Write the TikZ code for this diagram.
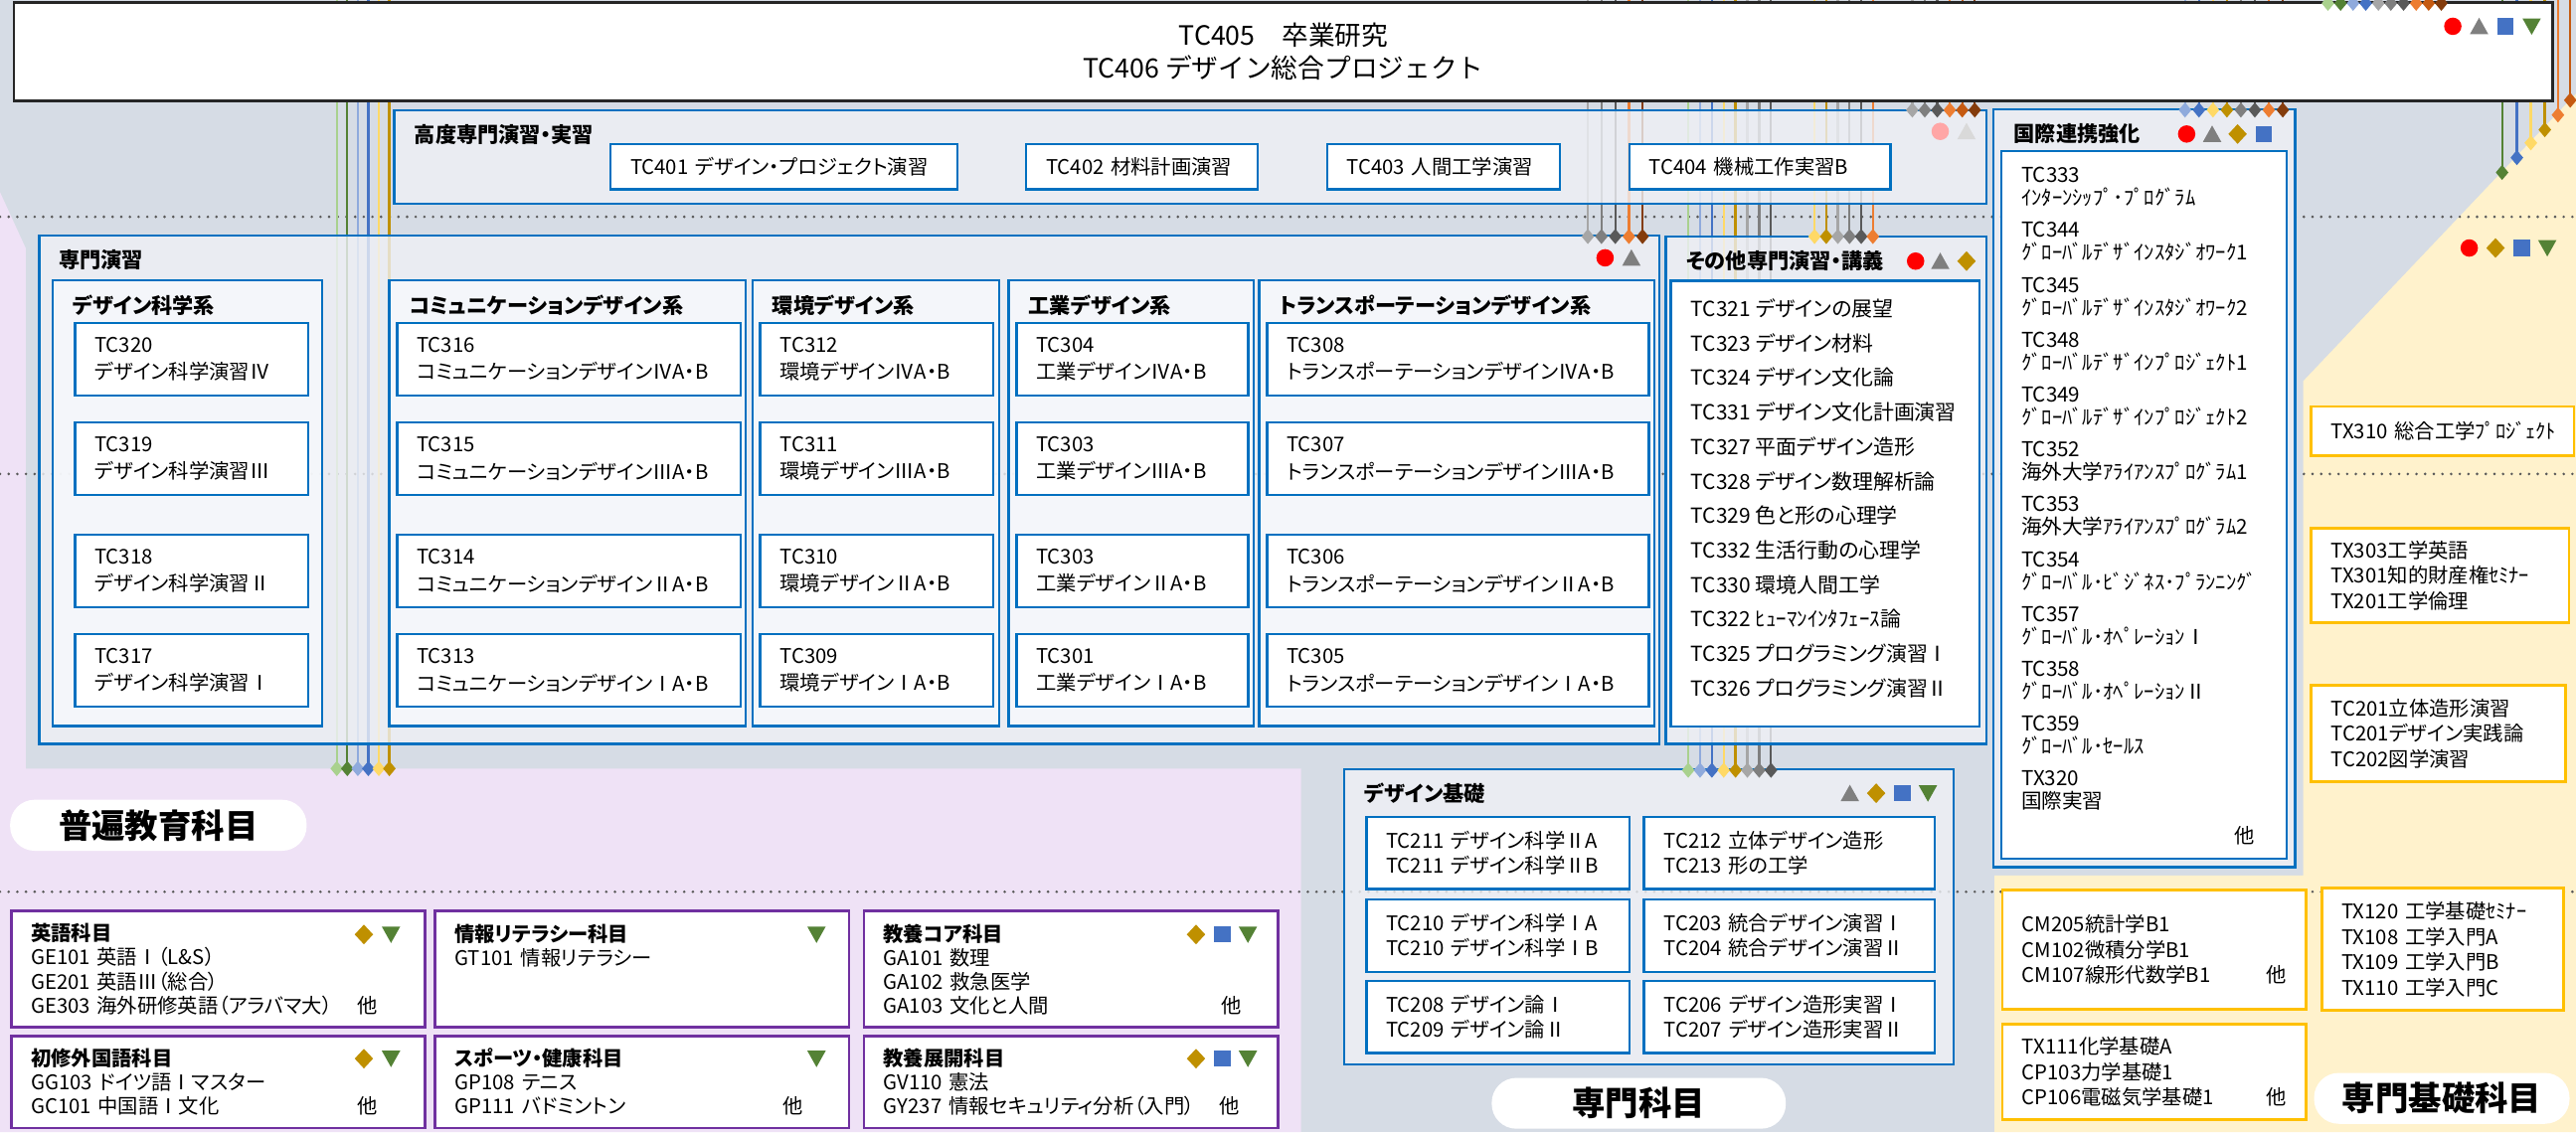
\documentclass[tikz,border=0pt]{standalone}
\usepackage{fontspec}
\setmainfont{Noto Sans CJK JP}[RawFeature=+palt]
\newfontfamily\jpwide{Noto Sans CJK JP}
\usetikzlibrary{shapes.geometric,fit}

\definecolor{bgray}{RGB}{214,220,229}
\definecolor{lav}{RGB}{239,226,246}
\definecolor{cream}{RGB}{255,242,204}
\definecolor{boxblue}{RGB}{0,112,192}
\definecolor{secfill}{RGB}{239,241,246}
\definecolor{colfill}{RGB}{247,249,252}
\definecolor{purp}{RGB}{112,48,160}
\definecolor{amber}{RGB}{255,192,0}
\definecolor{lgreen}{RGB}{169,209,142}
\definecolor{dgreen}{RGB}{84,130,53}
\definecolor{lblue}{RGB}{143,170,220}
\definecolor{mblue}{RGB}{68,114,196}
\definecolor{lyellow}{RGB}{255,217,102}
\definecolor{gold}{RGB}{191,144,0}
\definecolor{lgray}{RGB}{166,166,166}
\definecolor{mgray}{RGB}{127,127,127}
\definecolor{dgray}{RGB}{89,89,89}
\definecolor{orng}{RGB}{237,125,49}
\definecolor{dorng}{RGB}{197,90,17}
\definecolor{brwn}{RGB}{132,60,12}
\definecolor{pinkred}{RGB}{255,166,166}
\definecolor{pgray}{RGB}{217,217,217}

\begin{document}
\begin{tikzpicture}[x=0.2mm,y=-0.2mm,
  secbox/.style={draw=boxblue,line width=.8pt,fill=secfill,fill opacity=.8,inner sep=0pt},
  colbox/.style={secbox,fill=colfill},
  whitebox/.style={draw=boxblue,line width=.8pt,fill=white,inner sep=0pt},
  coursebox/.style={draw=boxblue,line width=.8pt,fill=white,anchor=north west,align=left,
    inner xsep=2.4mm,inner ysep=0pt,minimum height=8.8mm,text width=#1,font=\fontsize{7}{9.4}\selectfont},
  purpbox/.style={draw=purp,line width=.9pt,fill=white,anchor=north west,align=left,
    inner xsep=2.4mm,inner ysep=0pt,text width=45.6mm,minimum height=#1,font=\fontsize{7}{8.3}\selectfont},
  ambbox/.style={draw=amber,line width=.9pt,fill=white,anchor=north west,align=left,
    inner xsep=2.4mm,inner ysep=0pt,font=\fontsize{7}{8.8}\selectfont},
  seclabel/.style={anchor=west,inner sep=0pt,font=\bfseries\fontsize{7.3}{9}\selectfont},
  pill/.style={fill=white,rounded corners=3mm,minimum height=6.1mm,font=\bfseries\fontsize{11.5}{12}\selectfont},
  wire/.style={line width=.8pt},
  dia/.style={diamond,inner sep=0pt,minimum width=1.6mm,minimum height=1.9mm},
  yearline/.style={dgray,line width=1pt,line cap=round,dash pattern=on 0pt off 3pt},
  icirc/.pic={\path[pic actions] (0,0) circle (5.3);},
  itri/.pic={\path[pic actions] (-5.6,4.8) -- (5.6,4.8) -- (0,-5.2) -- cycle;},
  isq/.pic={\path[pic actions] (-4.9,-4.9) rectangle (4.9,4.9);},
  idia/.pic={\path[pic actions] (0,-6) -- (5.6,0) -- (0,6) -- (-5.6,0) -- cycle;},
  iinv/.pic={\path[pic actions] (-5.6,-4.8) -- (5.6,-4.8) -- (0,5.2) -- cycle;}]

\useasboundingbox (0,0) rectangle (1568,689.3);
\fill[bgray] (0,0) rectangle (1568,689.3);
\fill[lav] (0,117) -- (15.6,151) -- (15.6,468) -- (792,468) -- (792,689.3) -- (0,689.3) -- cycle;
\fill[cream] (1568,57) -- (1402,232) -- (1402,533) -- (1214,533) -- (1214,689.3) -- (1568,689.3) -- cycle;

\foreach \y in {132,288.6,543}
  \draw[yearline] (0,\y) -- (1568,\y);

% wires: x / end y / colour
\def\wirelist{205/468/lgreen,211.4/468/dgreen,217.8/468/lblue,224.2/468/mblue,230.6/468/lyellow,237/468/gold,
  966.5/144/lgray,974.8/144/mgray,983.2/144/dgray,991.5/144/orng,999.8/144/brwn,
  1164/67/lgray,1171.6/67/mgray,1179.2/67/dgray,1186.8/67/orng,1194.4/67/dorng,1202/67/brwn,
  1104.5/144/lyellow,1111.6/144/gold,1118.7/144/lgray,1125.8/144/mgray,1132.9/144/dgray,1140/144/orng,
  1027.6/469/lgreen,1034.8/469/lblue,1042/469/mblue,1049.2/469/lyellow,1056.4/469/gold,1063.6/469/lgray,1070.8/469/mgray,1078/469/dgray,
  1330/67/lblue,1338.5/67/mblue,1347/67/lyellow,1355.5/67/gold,1364/67/mgray,1372.5/67/dgray,1381/67/orng,1389.5/67/brwn,
  1417/2/lgreen,1424.7/2/dgreen,1432.3/2/lblue,1440/2/mblue,1447.7/2/lgray,1455.3/2/mgray,1463/2/dgray,1470.7/2/orng,1478.3/2/dorng,1486/2/brwn,
  1523/105/dgreen,1532/96/mblue,1540.5/87/lyellow,1549/79/gold,1557/70/orng,1564.5/61/dorng}
\foreach \x/\y/\c [count=\n] in \wirelist {
  \coordinate (wTop\n) at (\x,0);
  \coordinate (wEnd\n) at (\x,\y);
  \draw[wire,\c] (wTop\n) -- (wEnd\n);
}

% 高度専門演習・実習
\node[secbox,fit={(240,67) (1209,124)}] (koudo) {};
\node[seclabel] (koudoLb) at (252,81.7) {高度専門演習・実習};
\node[coursebox=37.4mm,minimum height=5.5mm] (tc401) at (371,87) {TC401 デザイン・プロジェクト演習};
\node[coursebox=23.4mm,minimum height=5.5mm] (tc402) at (624,87) {TC402 材料計画演習};
\node[coursebox=23.6mm,minimum height=5.5mm] (tc403) at (807,87) {TC403 人間工学演習};
\node[coursebox=27mm,minimum height=5.5mm] (tc404) at (991,87) {TC404 機械工作実習B};

% 専門演習
\node[secbox,fit={(24,143.5) (1010,453)}] (senmon) {};
\node[seclabel] (senmonLb) at (35.5,158.5) {専門演習};
\foreach \a/\b/\t [count=\n] in {32/196/デザイン科学系,237/454/コミュニケーションデザイン系,
    458/608/環境デザイン系,614/763/工業デザイン系,766.5/1007/トランスポーテーションデザイン系} {
  \node[colbox,fit={(\a,170.5) (\b,442)}] (kei\n) {};
  \node[seclabel] (keiLb\n) at (\a+11.8,185.7) {\t};
}
\foreach \cd/\rn/\yy [count=\n] in {TC320/Ⅳ/196,TC319/Ⅲ/256.6,TC318/Ⅱ/325,TC317/Ⅰ/385.5}
  \node[coursebox=23.6mm] (kagaku\n) at (45,\yy) {\cd\\デザイン科学演習\rn};
\foreach \cd/\rn/\yy [count=\n] in {TC316/Ⅳ/196,TC315/Ⅲ/256.6,TC314/Ⅱ/325,TC313/Ⅰ/385.5}
  \node[coursebox=37mm] (comm\n) at (241,\yy) {\cd\\コミュニケーションデザイン\rn A・B};
\foreach \cd/\rn/\yy [count=\n] in {TC312/Ⅳ/196,TC311/Ⅲ/256.6,TC310/Ⅱ/325,TC309/Ⅰ/385.5}
  \node[coursebox=23.6mm] (kankyo\n) at (462,\yy) {\cd\\環境デザイン\rn A・B};
\foreach \cd/\rn/\yy [count=\n] in {TC304/Ⅳ/196,TC303/Ⅲ/256.6,TC303/Ⅱ/325,TC301/Ⅰ/385.5}
  \node[coursebox=23.4mm] (kogyo\n) at (618,\yy) {\cd\\工業デザイン\rn A・B};
\foreach \cd/\rn/\yy [count=\n] in {TC308/Ⅳ/196,TC307/Ⅲ/256.6,TC306/Ⅱ/325,TC305/Ⅰ/385.5}
  \node[coursebox=41.7mm] (trans\n) at (770.5,\yy) {\cd\\トランスポーテーションデザイン\rn A・B};

% その他専門演習・講義
\node[secbox,fit={(1014,144) (1209,453)}] (sonota) {};
\node[seclabel] (sonotaLb) at (1026,158.7) {その他専門演習・講義};
\node[whitebox,fit={(1017,171) (1205,442.5)}] (sonotaIn) {};
\node[anchor=west,align=left,inner sep=0pt,font=\fontsize{7.2}{11.95}\selectfont] (sonotaList) at (1029,303.4)
  {TC321 デザインの展望\\TC323 デザイン材料\\TC324 デザイン文化論\\TC331 デザイン文化計画演習\\
   TC327 平面デザイン造形\\TC328 デザイン数理解析論\\TC329 色と形の心理学\\TC332 生活行動の心理学\\
   TC330 環境人間工学\\TC322 {\jpwide ﾋｭｰﾏﾝｲﾝﾀﾌｪｰｽ}論\\TC325 プログラミング演習Ⅰ\\TC326 プログラミング演習Ⅱ};

% 国際連携強化
\node[secbox,fit={(1213.5,66.6) (1397,528)}] (kokusai) {};
\node[seclabel] (kokusaiLb) at (1225.5,81.6) {国際連携強化};
\node[whitebox,fit={(1218,92) (1392,523)}] (kokusaiIn) {};
\foreach \p/\q [count=\n] in {TC333/ｲﾝﾀｰﾝｼｯﾌﾟ･ﾌﾟﾛｸﾞﾗﾑ,TC344/ｸﾞﾛｰﾊﾞﾙﾃﾞｻﾞｲﾝｽﾀｼﾞｵﾜｰｸ1,TC345/ｸﾞﾛｰﾊﾞﾙﾃﾞｻﾞｲﾝｽﾀｼﾞｵﾜｰｸ2,
    TC348/ｸﾞﾛｰﾊﾞﾙﾃﾞｻﾞｲﾝﾌﾟﾛｼﾞｪｸﾄ1,TC349/ｸﾞﾛｰﾊﾞﾙﾃﾞｻﾞｲﾝﾌﾟﾛｼﾞｪｸﾄ2,TC352/海外大学ｱﾗｲｱﾝｽﾌﾟﾛｸﾞﾗﾑ1,
    TC353/海外大学ｱﾗｲｱﾝｽﾌﾟﾛｸﾞﾗﾑ2,TC354/ｸﾞﾛｰﾊﾞﾙ･ﾋﾞｼﾞﾈｽ･ﾌﾟﾗﾝﾆﾝｸﾞ,TC357/ｸﾞﾛｰﾊﾞﾙ･ｵﾍﾟﾚｰｼｮﾝⅠ,
    TC358/ｸﾞﾛｰﾊﾞﾙ･ｵﾍﾟﾚｰｼｮﾝⅡ,TC359/ｸﾞﾛｰﾊﾞﾙ･ｾｰﾙｽ,TX320/国際実習}
  \node[anchor=west,align=left,inner sep=0pt,font=\jpwide\fontsize{7.1}{7.9}\selectfont] (kk\n) at (1230,{113.85+33.4*(\n-1)}) {\p\\\q};
\node[inner sep=0pt,font=\fontsize{7}{8}\selectfont] (kkEtc) at (1366,509) {他};

% 専門基礎科目 (右)
\node[ambbox,text width=27.2mm,minimum height=6mm] (tx310) at (1406,246.7) {TX310~総合工学{\jpwide ﾌﾟﾛｼﾞｪｸﾄ}};
\node[ambbox,text width=26.6mm,minimum height=11.5mm] (tx303) at (1406,320.8) {TX303工学英語\\TX301知的財産権{\jpwide ｾﾐﾅｰ}\\TX201工学倫理};
\node[ambbox,text width=26.2mm,minimum height=11.7mm] (tc201) at (1406,416.5) {TC201立体造形演習\\TC201デザイン実践論\\TC202図学演習};
\node[ambbox,text width=32.2mm,minimum height=14.56mm] (cm205) at (1218,541) {CM205統計学B1\\CM102微積分学B1\\CM107線形代数学B1\hfill 他};
\node[ambbox,text width=24.6mm,minimum height=14.9mm] (tx120) at (1412.5,540) {TX120~工学基礎{\jpwide ｾﾐﾅｰ}\\TX108~工学入門A\\TX109~工学入門B\\TX110~工学入門C};
\node[ambbox,text width=32.2mm,minimum height=11.6mm] (tx111) at (1218,623) {TX111化学基礎A\\CP103力学基礎1\\CP106電磁気学基礎1\hfill 他};

% デザイン基礎
\node[secbox,fit={(818,468.4) (1189,648)}] (kiso) {};
\node[seclabel] (kisoLb) at (830,483) {デザイン基礎};
\node[coursebox=27.2mm,font=\fontsize{7}{8.5}\selectfont] (kiso1) at (831,496.7) {TC211~デザイン科学ⅡA\\TC211~デザイン科学ⅡB};
\node[coursebox=30.6mm,font=\fontsize{7}{8.5}\selectfont] (kiso2) at (1000,496.7) {TC212~立体デザイン造形\\TC213~形の工学};
\node[coursebox=27.2mm,font=\fontsize{7}{8.5}\selectfont] (kiso3) at (831,547) {TC210~デザイン科学ⅠA\\TC210~デザイン科学ⅠB};
\node[coursebox=30.6mm,font=\fontsize{7}{8.5}\selectfont] (kiso4) at (1000,547) {TC203~統合デザイン演習Ⅰ\\TC204~統合デザイン演習Ⅱ};
\node[coursebox=27.2mm,font=\fontsize{7}{8.5}\selectfont] (kiso5) at (831,596.5) {TC208~デザイン論Ⅰ\\TC209~デザイン論Ⅱ};
\node[coursebox=30.6mm,font=\fontsize{7}{8.5}\selectfont] (kiso6) at (1000,596.5) {TC206~デザイン造形実習Ⅰ\\TC207~デザイン造形実習Ⅱ};

% 普遍教育科目
\node[purpbox=14.16mm] (eigo) at (6,554) {\textbf{英語科目}\\GE101~英語Ⅰ（L\&S）\\GE201~英語Ⅲ（総合）\\GE303~海外研修英語（アラバマ大）\hfill 他\kern3.4mm};
\node[purpbox=14.16mm] (joho) at (264,554) {\textbf{情報リテラシー科目}\\GT101~情報リテラシー\\~\\~};
\node[purpbox=14.16mm] (core) at (525,554) {\textbf{教養コア科目}\\GA101~数理\\GA102~救急医学\\GA103~文化と人間\hfill 他\kern2mm};
\node[purpbox=11.2mm] (shoshu) at (6,630) {\textbf{初修外国語科目}\\GG103~ドイツ語Ⅰマスター\\GC101~中国語Ⅰ文化\hfill 他\kern3.4mm};
\node[purpbox=11.2mm] (sports) at (264,630) {\textbf{スポーツ・健康科目}\\GP108~テニス\\GP111~バドミントン\hfill 他\kern3.2mm};
\node[purpbox=11.2mm] (tenkai) at (525,630) {\textbf{教養展開科目}\\GV110~憲法\\GY237~情報セキュリティ分析（入門）\hfill 他\kern2.2mm};

% 卒業研究
\node[draw=black!85,line width=1pt,fill=white,inner sep=0pt,minimum width=309.1mm,minimum height=11.98mm,
  align=center,font=\jpwide\fontsize{9.2}{11.4}\selectfont] (sotsu) at (781.25,31.55)
  {TC405　卒業研究\\TC406 デザイン総合プロジェクト};

\foreach \x/\y/\c [count=\n] in \wirelist
  \node[dia,fill=\c] (tip\n) at (wEnd\n) {};

% marks
\foreach \x/\y/\k/\c in {1493/16/icirc/red,1509/16/itri/mgray,1525/16/isq/mblue,1541/16/iinv/dgreen,
    1181/80/icirc/pinkred,1197/80/itri/pgray,977/157/icirc/red,993/157/itri/mgray,
    1166/159/icirc/red,1181/159/itri/mgray,1197/159/idia/gold,
    1331/81.6/icirc/red,1346.5/81.6/itri/mgray,1362/81.6/idia/gold,1378/81.6/isq/mblue,
    1503/151/icirc/red,1519/151/idia/gold,1535/151/isq/mblue,1550.5/151/iinv/dgreen,
    1126/483/itri/mgray,1142/483/idia/gold,1158/483/isq/mblue,1173.5/483/iinv/dgreen,
    221.5/569/idia/gold,238/569/iinv/dgreen,497/569/iinv/dgreen,728/569/idia/gold,744/569/isq/mblue,759.6/569/iinv/dgreen,
    221.5/644.6/idia/gold,238/644.6/iinv/dgreen,497/644.6/iinv/dgreen,728/644.6/idia/gold,744/644.6/isq/mblue,759.6/644.6/iinv/dgreen}
  \pic[fill=\c] at (\x,\y) {\k};

\node[pill,minimum width=36.1mm] (futsuPill) at (96.4,502.5) {普遍教育科目};
\node[pill,minimum width=35.8mm] (senmonPill) at (997.5,671.8) {専門科目};
\node[pill,minimum width=31.1mm] (kisoPill) at (1486.3,668.8) {専門基礎科目};
\end{tikzpicture}
\end{document}
